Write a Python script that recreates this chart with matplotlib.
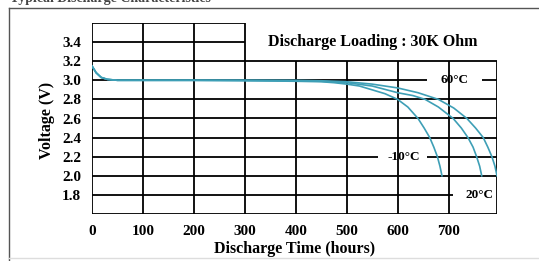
import matplotlib
matplotlib.use("Agg")
import matplotlib.pyplot as plt
from matplotlib.lines import Line2D

# Discharge curves (hours, volts)
hours_m10 = [0, 8, 18, 30, 50, 100, 200, 300, 400, 450, 475, 500, 525, 550, 575, 600,
             620, 640, 652, 663, 671, 678, 683, 687]
volts_m10 = [3.15, 3.08, 3.03, 3.01, 3.0, 3.0, 3.0, 2.995, 2.99, 2.985, 2.975, 2.96, 2.94,
             2.90, 2.86, 2.80, 2.72, 2.60, 2.50, 2.40, 2.30, 2.20, 2.10, 2.0]

hours_60 = [0, 8, 18, 30, 50, 100, 200, 300, 400, 450, 500, 550, 600, 630, 654, 680,
            709, 725, 738, 748, 755, 761, 765]
volts_60 = [3.15, 3.08, 3.03, 3.01, 3.0, 3.0, 3.0, 3.0, 2.995, 2.99, 2.975, 2.94, 2.87,
            2.84, 2.80, 2.72, 2.60, 2.50, 2.40, 2.30, 2.20, 2.10, 2.0]

hours_20 = [0, 8, 18, 30, 50, 100, 200, 300, 400, 450, 500, 550, 600, 640, 680, 710,
            736, 753, 768, 777, 785, 791, 795]
volts_20 = [3.15, 3.08, 3.03, 3.01, 3.0, 3.0, 3.0, 3.0, 3.0, 2.995, 2.985, 2.96, 2.92,
            2.87, 2.80, 2.71, 2.60, 2.50, 2.40, 2.30, 2.20, 2.10, 2.0]

x_ticks = [0, 100, 200, 300, 400, 500, 600, 700]
y_ticks = [1.8, 2.0, 2.2, 2.4, 2.6, 2.8, 3.0, 3.2, 3.4]

plt.rcParams["font.family"] = ["Liberation Serif", "DejaVu Serif"]
plt.rcParams["font.weight"] = "bold"

fig = plt.figure(figsize=(5.39, 2.61), dpi=100)
ax = fig.add_axes([92 / 539, 1 - 214 / 261, 405 / 539, 191 / 261])
ax.set_xlim(0, 795)
ax.set_ylim(1.6, 3.6)
for s in ax.spines.values():
    s.set_visible(False)

grid = dict(color="black", lw=1.3, zorder=1)
# horizontal grid lines (some broken for the labels)
for y in [1.6, 2.0, 2.4, 2.6, 2.8, 3.2]:
    ax.hlines(y, 0, 795, **grid)
ax.hlines(1.8, 0, 708, **grid)
ax.hlines(2.2, 0, 561, **grid)
ax.hlines(2.2, 657, 795, **grid)
ax.hlines(3.0, 0, 657, **grid)
ax.hlines(3.0, 765, 795, **grid)
ax.hlines([3.4, 3.6], 0, 300, **grid)
# vertical grid lines
ax.vlines([0, 100, 200, 300], 1.6, 3.6, **grid)
ax.vlines([400, 500, 600, 700, 795], 1.6, 3.2, **grid)

col = "#3e9fb6"
ax.plot(hours_m10, volts_m10, color=col, lw=1.2, zorder=3)
ax.plot(hours_60, volts_60, color=col, lw=1.2, zorder=3)
ax.plot(hours_20, volts_20, color=col, lw=1.2, zorder=3)

ax.text(712, 3.0, "60°C", ha="center", va="center", fontsize=9.5, fontweight="bold")
ax.text(612, 2.2, "-10°C", ha="center", va="center", fontsize=9.5, fontweight="bold")
ax.text(760, 1.8, "20°C", ha="center", va="center", fontsize=9.5, fontweight="bold")
ax.text(551, 3.4, "Discharge Loading : 30K Ohm", ha="center", va="center",
        fontsize=11.5, fontweight="bold")

ax.set_xticks(x_ticks)
ax.set_yticks(y_ticks)
ax.set_yticklabels([f"{v:.1f}" for v in y_ticks])
ax.tick_params(length=0, labelsize=11, pad=8)
ax.set_xlabel("Discharge Time (hours)", fontsize=11.5, fontweight="bold", labelpad=2)
fig.text(47 / 539, 1 - 120 / 261, "Voltage (V)", rotation=90, ha="center",
         va="center", fontsize=11.5, fontweight="bold")

# outer frame and the heading that the crop cuts off at the top
fig.add_artist(Line2D([9 / 539, 1], [1 - 8 / 261] * 2, color="#555555", lw=1))
fig.add_artist(Line2D([9 / 539] * 2, [0, 1 - 8 / 261], color="#555555", lw=1))
fig.add_artist(Line2D([9 / 539, 1], [3 / 261] * 2, color="#dddddd", lw=1))
fig.text(10 / 539, 1 - 2 / 261, "Typical Discharge Characteristics", ha="left",
         va="baseline", fontsize=10, fontweight="bold", color="#444444")

fig.savefig("out.png", dpi=100)
